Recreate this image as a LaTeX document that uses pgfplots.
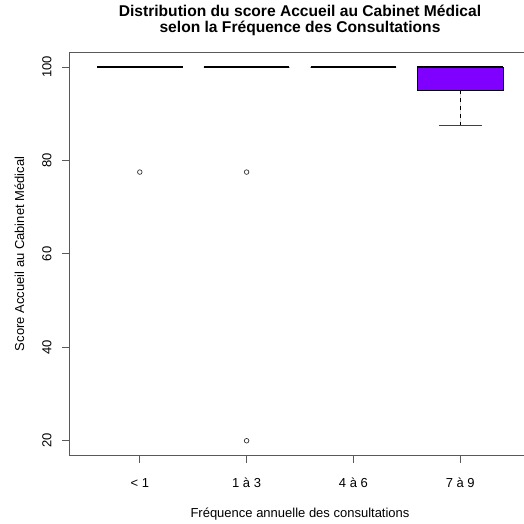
\documentclass[border=0pt]{standalone}
\usepackage{fontspec}
\setmainfont{Liberation Sans}
\usepackage{pgfplots}
\pgfplotsset{compat=1.18}
\usepgfplotslibrary{statistics}
\definecolor{violetbox}{RGB}{127,0,255}
\begin{document}
\begin{tikzpicture}[x=1pt,y=1pt]
\begin{axis}[
  at={(69.3pt,68.3pt)}, anchor=south west,
  width=461.4pt, height=403.7pt, scale only axis,
  xmin=0.34, xmax=4.66, ymin=16.8, ymax=103.2,
  xtick={1,2,3,4}, xticklabels={{< 1},{1 à 3},{4 à 6},{7 à 9}},
  ytick={20,40,60,80,100},
  tick align=outside, xtick pos=bottom, ytick pos=left,
  major tick length=7pt,
  axis line style={black!65, line width=0.7pt},
  every tick/.style={black!65, line width=0.7pt},
  tick label style={font=\fontsize{13}{15}\selectfont},
  /pgf/number format/assume math mode=true,
  yticklabel style={rotate=90, anchor=south, inner sep=0pt},
  yticklabel shift=10.6pt,
  xticklabel style={anchor=north, inner sep=0pt},
  xticklabel shift=15.2pt,
  boxplot/draw direction=y,
  boxplot/box extend=0.8,
  boxplot/whisker extend=0.4,
  boxplot/every median/.style={line width=2.8pt},
  boxplot/draw/lower whisker/.code={%
    \draw[black, line width=0.7pt, dash pattern=on 4pt off 4pt] (boxplot box cs:\pgfplotsboxplotvalue{lower quartile},0.5) -- (boxplot box cs:\pgfplotsboxplotvalue{lower whisker},0.5);
    \draw[black!75, line width=0.7pt, solid] (boxplot whisker cs:\pgfplotsboxplotvalue{lower whisker},0) -- (boxplot whisker cs:\pgfplotsboxplotvalue{lower whisker},1);
  },
  boxplot/draw/upper whisker/.code={%
    \draw[black, line width=0.7pt, dash pattern=on 4pt off 4pt] (boxplot box cs:\pgfplotsboxplotvalue{upper quartile},0.5) -- (boxplot box cs:\pgfplotsboxplotvalue{upper whisker},0.5);
    \draw[black!75, line width=0.7pt, solid] (boxplot whisker cs:\pgfplotsboxplotvalue{upper whisker},0) -- (boxplot whisker cs:\pgfplotsboxplotvalue{upper whisker},1);
  },
]
\addplot[black, fill=white, line width=0.7pt, boxplot prepared={lower whisker=100, lower quartile=100, median=100, upper quartile=100, upper whisker=100, draw position=1}] coordinates {};
\addplot[black, fill=white, line width=0.7pt, boxplot prepared={lower whisker=100, lower quartile=100, median=100, upper quartile=100, upper whisker=100, draw position=2}] coordinates {};
\addplot[black, fill=white, line width=0.7pt, boxplot prepared={lower whisker=100, lower quartile=100, median=100, upper quartile=100, upper whisker=100, draw position=3}] coordinates {};
\addplot[black, fill=violetbox, line width=0.7pt, boxplot prepared={lower whisker=87.5, lower quartile=95, median=100, upper quartile=100, upper whisker=100, draw position=4}] coordinates {};
\addplot[only marks, mark=o, mark size=2.3pt, black!80, mark options={line width=0.7pt}] coordinates {(1,77.5) (2,77.5) (2,20)};
\end{axis}
\node[font=\bfseries\fontsize{15.6}{16.5}\selectfont, align=center] at (300,503.5) {Distribution du score Accueil au Cabinet Médical\\selon la Fréquence des Consultations};
\node[font=\fontsize{13}{15}\selectfont] at (300,9.5) {Fréquence annuelle des consultations};
\node[rotate=90, font=\fontsize{13}{15}\selectfont] at (19.5,270.15) {Score Accueil au Cabinet Médical};
\pgfresetboundingbox
\useasboundingbox (0,0) rectangle (524,524);
\end{tikzpicture}
\end{document}
